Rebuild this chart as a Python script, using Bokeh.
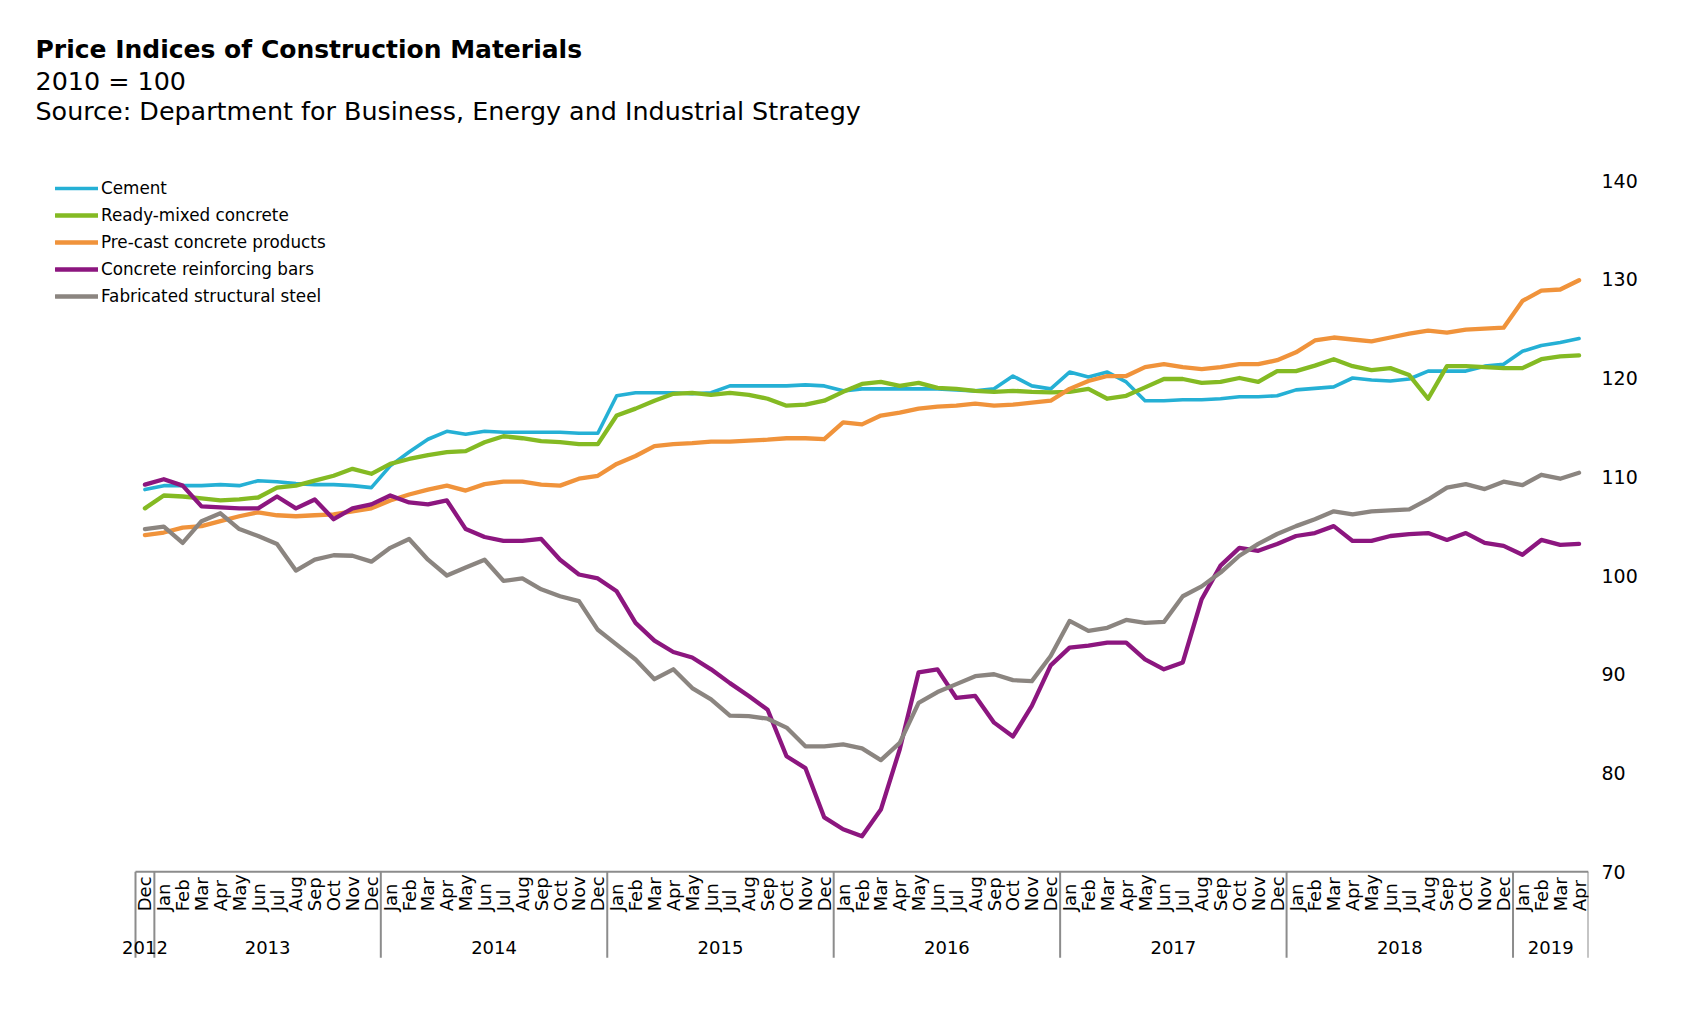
from math import pi
from bokeh.plotting import figure
from bokeh.models import Range1d, FixedTicker, Label, Legend, LegendItem, ColumnDataSource
from bokeh.core.properties import value
from bokeh.embed import file_html
from bokeh.resources import INLINE

# ---------------- data ----------------
month_labels = (["Dec"]
                + ["Jan", "Feb", "Mar", "Apr", "May", "Jun", "Jul", "Aug", "Sep", "Oct", "Nov", "Dec"] * 6
                + ["Jan", "Feb", "Mar", "Apr"])
year_labels = ["2012", "2013", "2014", "2015", "2016", "2017", "2018", "2019"]
y_ticks = [70, 80, 90, 100, 110, 120, 130, 140]

cement = [108.7, 109.1, 109.1, 109.1, 109.2, 109.1, 109.6, 109.5, 109.3, 109.2, 109.2, 109.1, 108.9,
          111.1, 112.5, 113.8, 114.6, 114.3, 114.6, 114.5, 114.5, 114.5, 114.5, 114.4, 114.4,
          118.2, 118.5, 118.5, 118.5, 118.4, 118.5, 119.2, 119.2, 119.2, 119.2, 119.3, 119.2,
          118.7, 118.9, 118.9, 118.9, 118.9, 118.9, 118.8, 118.7, 118.9, 120.2, 119.2, 118.9,
          120.6, 120.1, 120.6, 119.6, 117.7, 117.7, 117.8, 117.8, 117.9, 118.1, 118.1, 118.2,
          118.8, 118.95, 119.1, 120.0, 119.8, 119.7, 119.9, 120.7, 120.7, 120.7, 121.2, 121.4,
          122.7, 123.3, 123.6, 124.0]
ready_mixed = [106.8, 108.1, 108.0, 107.8, 107.6, 107.7, 107.9, 108.9, 109.1, 109.6, 110.1, 110.8, 110.3,
               111.3, 111.8, 112.2, 112.5, 112.6, 113.5, 114.1, 113.9, 113.6, 113.5, 113.3, 113.3,
               116.2, 116.9, 117.7, 118.4, 118.5, 118.3, 118.5, 118.3, 117.9, 117.2, 117.3, 117.7,
               118.6, 119.4, 119.6, 119.2, 119.5, 119.0, 118.9, 118.7, 118.6, 118.7, 118.6, 118.55,
               118.6, 118.9, 117.9, 118.2, 119.05, 119.9, 119.9, 119.5, 119.6, 120.0, 119.6, 120.7,
               120.7, 121.25, 121.9, 121.2, 120.8, 121.0, 120.3, 117.9, 121.2, 121.2, 121.1, 121.0,
               121.0, 121.9, 122.2, 122.3]
precast = [104.1, 104.35, 104.85, 105.0, 105.5, 106.0, 106.4, 106.1, 106.0, 106.1, 106.2, 106.5, 106.8,
           107.6, 108.2, 108.7, 109.1, 108.6, 109.25, 109.5, 109.5, 109.2, 109.1, 109.8, 110.1,
           111.3, 112.1, 113.1, 113.3, 113.4, 113.55, 113.55, 113.65, 113.75, 113.9, 113.9, 113.8,
           115.5, 115.3, 116.2, 116.5, 116.9, 117.1, 117.2, 117.4, 117.2, 117.3, 117.5, 117.7,
           118.9, 119.7, 120.2, 120.2, 121.1, 121.4, 121.1, 120.9, 121.1, 121.4, 121.4, 121.8,
           122.6, 123.8, 124.1, 123.9, 123.7, 124.1, 124.5, 124.8, 124.6, 124.9, 125.0, 125.1,
           127.8, 128.85, 128.96, 129.9]
rebar = [109.2, 109.75, 109.1, 107.0, 106.9, 106.8, 106.8, 108.0, 106.8, 107.7, 105.7, 106.8, 107.2,
         108.1, 107.4, 107.2, 107.6, 104.7, 103.9, 103.5, 103.5, 103.7, 101.6, 100.1, 99.7,
         98.4, 95.2, 93.4, 92.25, 91.7, 90.5, 89.1, 87.8, 86.4, 81.7, 80.5, 75.5,
         74.3, 73.6, 76.3, 82.4, 90.2, 90.5, 87.6, 87.8, 85.1, 83.7, 86.8, 90.9,
         92.7, 92.9, 93.2, 93.2, 91.5, 90.5, 91.2, 97.6, 101.0, 102.8, 102.5, 103.2,
         104.0, 104.3, 105.0, 103.5, 103.5, 104.0, 104.2, 104.3, 103.6, 104.3, 103.3, 103.0,
         102.1, 103.6, 103.1, 103.2]
steel = [104.7, 104.95, 103.3, 105.5, 106.3, 104.7, 104.0, 103.2, 100.5, 101.6, 102.05, 102.0, 101.4,
         102.8, 103.7, 101.6, 100.0, 100.8, 101.6, 99.45, 99.7, 98.6, 97.9, 97.4, 94.5,
         93.0, 91.5, 89.5, 90.5, 88.6, 87.45, 85.8, 85.75, 85.5, 84.6, 82.7, 82.7,
         82.9, 82.5, 81.3, 83.05, 87.1, 88.2, 89.0, 89.8, 90.0, 89.4, 89.3, 91.85,
         95.4, 94.4, 94.7, 95.5, 95.2, 95.3, 97.9, 98.9, 100.3, 102.0, 103.2, 104.2,
         105.0, 105.7, 106.5, 106.2, 106.5, 106.6, 106.7, 107.7, 108.9, 109.25, 108.75, 109.5,
         109.15, 110.2, 109.8, 110.4]

series_names = ["Cement", "Ready-mixed concrete", "Pre-cast concrete products",
                "Concrete reinforcing bars", "Fabricated structural steel"]
series_colors = ["#25B0D5", "#84BA23", "#F0933B", "#8C167F", "#8B8580"]

# ---------------- layout ----------------
FONT = "DejaVu Sans"
n = len(month_labels)
xs = list(range(n))

LEFT_PAD = 127      # px from frame left to the month area
TOP_PAD = 180       # px from frame top to the 140 line
PLOT_W = 1453       # px width of the month area
PLOT_H = 790        # px height from 140 down to 60
Y_LO, Y_HI = 60, 140
px_x = PLOT_W / n
px_y = PLOT_H / (Y_HI - Y_LO)

p = figure(frame_width=LEFT_PAD + PLOT_W, frame_height=TOP_PAD + PLOT_H,
           x_range=Range1d(-0.5 - LEFT_PAD / px_x, n - 0.5),
           y_range=Range1d(Y_LO, Y_HI + TOP_PAD / px_y),
           x_axis_location=None, y_axis_location="right",
           output_backend="svg", toolbar_location=None,
           min_border_left=8, min_border_top=0, min_border_bottom=20, min_border_right=100)
p.grid.visible = False
p.outline_line_color = None
p.background_fill_color = "white"
p.border_fill_color = "white"

ax = p.yaxis[0]
ax.ticker = FixedTicker(ticks=y_ticks)
ax.axis_line_color = None
ax.major_tick_line_color = None
ax.minor_tick_line_color = None
ax.major_tick_out = 0
ax.major_tick_in = 0
ax.major_label_standoff = 13
ax.major_label_text_font = FONT
ax.major_label_text_font_size = "19px"
ax.major_label_text_color = "#000000"

# ---------------- category axis (months / years) ----------------
AX_COL = "#8C8C8C"
year_idx = []
cur = 0
for i, m in enumerate(month_labels):
    if m == "Jan" and i > 0:
        cur += 1
    year_idx.append(cur)
first = [year_idx.index(k) for k in range(len(year_labels))]
last = [n - 1 - year_idx[::-1].index(k) for k in range(len(year_labels))]
year_centers = [(a + b) / 2 for a, b in zip(first, last)]
bounds = [a - 0.5 for a in first] + [last[-1] + 0.5]

p.segment(x0=[-0.5], y0=[70], x1=[n - 0.5], y1=[70], line_color=AX_COL, line_width=2)
p.segment(x0=bounds, y0=[70] * len(bounds), x1=bounds, y1=[61.3] * len(bounds),
          line_color=AX_COL, line_width=2)

msrc = ColumnDataSource(dict(x=xs, y=[66.0] * n, t=month_labels))
p.text(x="x", y="y", text="t", source=msrc, angle=pi / 2, text_align="left",
       text_baseline="middle", text_font=value(FONT), text_font_size="18px", text_color="#000000")
ysrc = ColumnDataSource(dict(x=year_centers, y=[62.3] * len(year_labels), t=year_labels))
p.text(x="x", y="y", text="t", source=ysrc, text_align="center", text_baseline="middle",
       text_font=value(FONT), text_font_size="18px", text_color="#000000")

# ---------------- series ----------------
items = []
for name, vals, color in zip(series_names, [cement, ready_mixed, precast, rebar, steel], series_colors):
    w = 3.6 if name == "Cement" else 4.3
    r = p.line(xs, vals, line_color=color, line_width=w, line_join="round", line_cap="round")
    items.append(LegendItem(label=name, renderers=[r]))

H = TOP_PAD + PLOT_H
legend = Legend(items=items, location=(47, H - 306), orientation="vertical",
                glyph_width=43, glyph_height=20, label_height=20, label_standoff=3,
                spacing=7, padding=0, margin=0,
                label_text_font=FONT, label_text_font_size="16.8px", label_text_color="#000000",
                border_line_color=None, background_fill_alpha=0)
p.add_layout(legend, "center")

# ---------------- titles ----------------
p.add_layout(Label(x=27, y=H - 49, x_units="screen", y_units="screen",
                   text="Price Indices of Construction Materials", text_font=FONT,
                   text_font_style="bold", text_font_size="25px", text_color="#000000",
                   text_baseline="alphabetic"))
p.add_layout(Label(x=27, y=H - 80, x_units="screen", y_units="screen",
                   text="2010 = 100", text_font=FONT, text_font_size="25.4px",
                   text_color="#000000", text_baseline="alphabetic"))
p.add_layout(Label(x=27, y=H - 110, x_units="screen", y_units="screen",
                   text="Source: Department for Business, Energy and Industrial Strategy",
                   text_font=FONT, text_font_size="25.4px", text_color="#000000",
                   text_baseline="alphabetic"))

open("out.html", "w").write(file_html(p, INLINE))
